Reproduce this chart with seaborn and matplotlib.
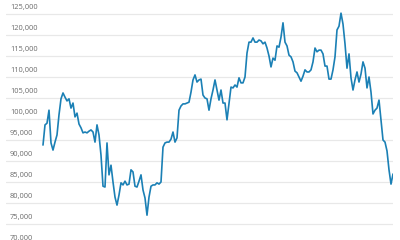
import numpy as np
import pandas as pd
import matplotlib
matplotlib.use("Agg")
import matplotlib.pyplot as plt
import matplotlib.transforms as mtransforms
import seaborn as sns

values = [
    93800, 98600, 99000, 102100, 94300, 92600, 94500, 96200, 101000, 104800,
    106200, 105200, 104300, 104800, 102600, 103800, 100500, 101400, 98800, 97900,
    96700, 96900, 96700, 97100, 97400, 96900, 94500, 98600, 96200, 91400,
    84000, 83800, 94300, 86700, 89000, 85000, 81400, 79500, 81900, 84800,
    84300, 85200, 84300, 84500, 87900, 87400, 84000, 83800, 85200, 86700,
    83100, 81200, 77100, 81400, 84000, 84300, 84300, 84800, 84500, 85000,
    93300, 94300, 94500, 94500, 95200, 96900, 94500, 95500, 102100, 103100,
    103600, 103600, 103800, 104000, 106400, 109300, 110500, 108800, 109300, 109500,
    105700, 105000, 104800, 102100, 104800, 106900, 109300, 106900, 104500, 106900,
    103800, 103800, 99800, 103800, 107600, 107400, 108100, 107600, 109800, 108600,
    108600, 110000, 115700, 118300, 118300, 119300, 118300, 118300, 118800, 118600,
    117900, 118300, 116900, 115000, 112400, 114500, 114000, 117400, 117100, 119500,
    122900, 118300, 117400, 115200, 114800, 113600, 111400, 111000, 110000, 109000,
    110200, 111700, 111200, 111200, 111700, 113600, 116900, 116000, 116400, 116400,
    115500, 112600, 112600, 109500, 109500, 111700, 114800, 121200, 122100, 125200,
    122600, 117900, 112100, 115500, 109800, 106900, 109300, 111200, 108800, 110700,
    113600, 112100, 107400, 110000, 106400, 101200, 102100, 102600, 104500, 99800,
    95000, 94500, 92400, 87900, 84500, 86900,
]
grid_values = [70000, 75000, 80000, 85000, 90000, 95000, 100000,
               105000, 110000, 115000, 120000, 125000]
tick_labels = ["70,000", "75,000", "80,000", "85,000", "90,000", "95,000",
               "100,000", "105,000", "110,000", "115,000", "120,000", "125,000"]

df = pd.DataFrame({"t": np.arange(len(values)), "v": values})

sns.set_style("white")
plt.rcParams["font.family"] = ["Open Sans", "DejaVu Sans"]

fig = plt.figure(figsize=(4, 2.4), dpi=100)
# axes spans pixel x 6..393, y from 0 to 250 (extends below figure)
ax = fig.add_axes([6 / 400, -10 / 240, 387 / 400, 250 / 240])

for g in grid_values:
    ax.axhline(g, color="#e8e8e8", lw=0.9, zorder=0)

sns.lineplot(data=df, x="t", y="v", ax=ax, color="#1b80b5", lw=1.2, zorder=3)

n = len(values) - 1
ax.set_xlim(-(37 / 350) * n, n)
ax.set_ylim(68810, 128333)

off = mtransforms.offset_copy(ax.get_yaxis_transform(), fig=fig, x=0, y=2.2, units="points")
for g, lab in zip(grid_values, tick_labels):
    ax.text(4 / 387, g, lab, transform=off, ha="left", va="bottom",
            fontsize=5.4, color="#6b6b6b")

ax.set_xticks([])
ax.set_yticks([])
ax.set_xlabel("")
ax.set_ylabel("")
for s in ax.spines.values():
    s.set_visible(False)
ax.patch.set_alpha(0)

fig.savefig("out.png", dpi=100)
